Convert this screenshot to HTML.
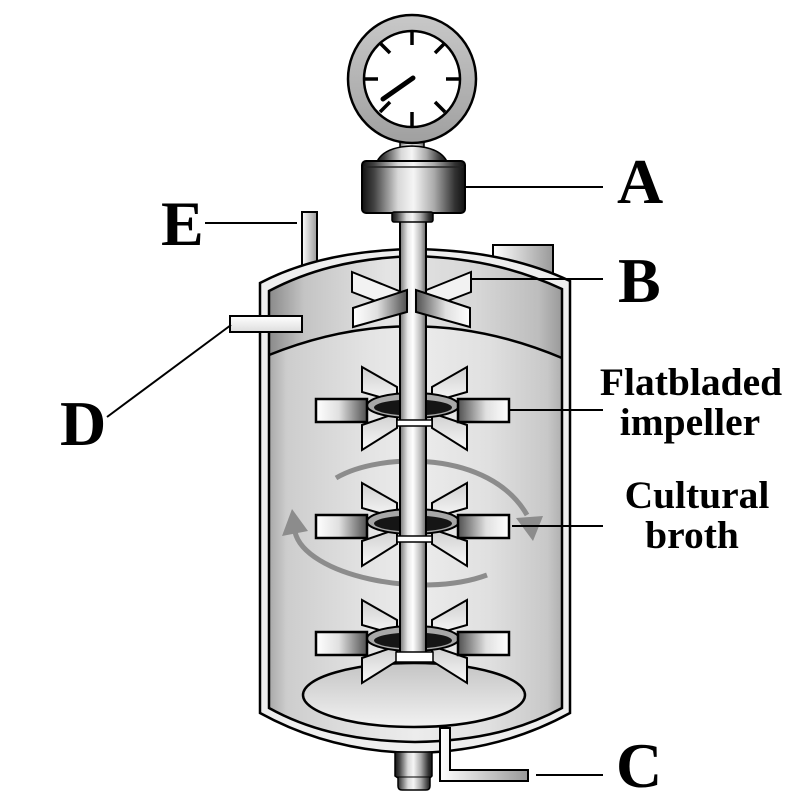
<!DOCTYPE html>
<html><head><meta charset="utf-8">
<style>html,body{margin:0;padding:0;background:#fff}svg{display:block}</style>
</head>
<body>
<svg width="800" height="797" viewBox="0 0 800 797" xmlns="http://www.w3.org/2000/svg">
<defs>
  <linearGradient id="head" x1="0" x2="1" y1="0" y2="0">
    <stop offset="0" stop-color="#8a8a8a"/>
    <stop offset="0.12" stop-color="#c4c4c4"/>
    <stop offset="0.4" stop-color="#e4e4e4"/>
    <stop offset="0.7" stop-color="#d8d8d8"/>
    <stop offset="0.92" stop-color="#bdbdbd"/>
    <stop offset="1" stop-color="#9a9a9a"/>
  </linearGradient>
  <linearGradient id="liq" x1="0" x2="1" y1="0" y2="0">
    <stop offset="0" stop-color="#a8a8a8"/>
    <stop offset="0.06" stop-color="#cdcdcd"/>
    <stop offset="0.35" stop-color="#e4e4e4"/>
    <stop offset="0.5" stop-color="#ececec"/>
    <stop offset="0.75" stop-color="#e0e0e0"/>
    <stop offset="0.95" stop-color="#c8c8c8"/>
    <stop offset="1" stop-color="#b0b0b0"/>
  </linearGradient>
  <linearGradient id="shaft" x1="0" x2="1" y1="0" y2="0">
    <stop offset="0" stop-color="#777"/>
    <stop offset="0.3" stop-color="#e8e8e8"/>
    <stop offset="0.5" stop-color="#fff"/>
    <stop offset="0.8" stop-color="#bbb"/>
    <stop offset="1" stop-color="#666"/>
  </linearGradient>
  <linearGradient id="cap" x1="0" x2="1" y1="0" y2="0">
    <stop offset="0" stop-color="#111"/>
    <stop offset="0.12" stop-color="#444"/>
    <stop offset="0.35" stop-color="#d8d8d8"/>
    <stop offset="0.5" stop-color="#f5f5f5"/>
    <stop offset="0.7" stop-color="#aaa"/>
    <stop offset="0.9" stop-color="#333"/>
    <stop offset="1" stop-color="#111"/>
  </linearGradient>
  <linearGradient id="ring" x1="0" x2="0" y1="0" y2="1">
    <stop offset="0" stop-color="#c8c8c8"/>
    <stop offset="1" stop-color="#a0a0a0"/>
  </linearGradient>
  <linearGradient id="bl" x1="0" x2="1" y1="0" y2="0">
    <stop offset="0" stop-color="#fff"/>
    <stop offset="0.45" stop-color="#e0e0e0"/>
    <stop offset="1" stop-color="#505050"/>
  </linearGradient>
  <linearGradient id="br" x1="1" x2="0" y1="0" y2="0">
    <stop offset="0" stop-color="#fff"/>
    <stop offset="0.45" stop-color="#e0e0e0"/>
    <stop offset="1" stop-color="#505050"/>
  </linearGradient>
  <linearGradient id="pit" x1="0" x2="0" y1="0" y2="1">
    <stop offset="0" stop-color="#cfcfcf"/>
    <stop offset="1" stop-color="#f8f8f8"/>
  </linearGradient>
  <linearGradient id="disc" x1="0" x2="0" y1="0" y2="1">
    <stop offset="0" stop-color="#c4c4c4"/>
    <stop offset="1" stop-color="#f2f2f2"/>
  </linearGradient>
  <linearGradient id="pipe" x1="0" x2="0" y1="0" y2="1">
    <stop offset="0" stop-color="#fff"/>
    <stop offset="1" stop-color="#ddd"/>
  </linearGradient>
  <linearGradient id="pipeh" x1="0" x2="1" y1="0" y2="0">
    <stop offset="0" stop-color="#fff"/>
    <stop offset="1" stop-color="#999"/>
  </linearGradient>

  <g id="imp">
    <!-- pitched blades -->
    <polygon points="362,367 397,387 397,402 362,392" fill="url(#pit)" stroke="#000" stroke-width="2"/>
    <polygon points="467,367 432,387 432,402 467,392" fill="url(#pit)" stroke="#000" stroke-width="2"/>
    <polygon points="362,425 397,413 397,428 362,450" fill="url(#pit)" stroke="#000" stroke-width="2"/>
    <polygon points="467,425 432,413 432,428 467,450" fill="url(#pit)" stroke="#000" stroke-width="2"/>
    <!-- ring -->
    <ellipse cx="413" cy="405.5" rx="46" ry="12.5" fill="#a8a8a8" stroke="#000" stroke-width="2"/>
    <ellipse cx="413" cy="407.5" rx="39" ry="8" fill="#151515"/>
    <!-- flat blades -->
    <rect x="316" y="399" width="51" height="23" fill="url(#bl)" stroke="#000" stroke-width="2.5"/>
    <rect x="458" y="399" width="51" height="23" fill="url(#br)" stroke="#000" stroke-width="2.5"/>
  </g>
</defs>

<rect width="800" height="797" fill="#fff"/>

<!-- top right nozzle & E pipe -->
<rect x="493" y="245" width="60" height="40" fill="url(#pipeh)" stroke="#000" stroke-width="2"/>
<rect x="302" y="212" width="15" height="58" fill="url(#pipeh)" stroke="#000" stroke-width="2"/>

<!-- tank outer -->
<path d="M260,283 C300,262 350,250 415,249 C480,250 530,262 570,281 L570,713 C530,735 480,752 415,753 C350,752 300,735 260,713 Z" fill="#eeeeee" stroke="#000" stroke-width="2.5"/>
<!-- tank inner -->
<path d="M269,291 C305,272 350,258 415,256 C480,258 525,272 562,289 L562,708 C525,728 480,741 415,742 C350,741 305,728 269,708 Z" fill="url(#liq)"/>
<path d="M269,291 C305,272 350,258 415,256 C480,258 525,272 562,289 L562,358 Q415,296 269,355 Z" fill="url(#head)"/>
<path d="M269,355 Q415,296 562,358" fill="none" stroke="#000" stroke-width="2.5"/>
<path d="M269,291 C305,272 350,258 415,256 C480,258 525,272 562,289 L562,708 C525,728 480,741 415,742 C350,741 305,728 269,708 Z" fill="none" stroke="#000" stroke-width="2.5"/>

<!-- disc -->
<ellipse cx="414" cy="695" rx="111" ry="32" fill="url(#disc)" stroke="#000" stroke-width="2.5"/>

<!-- circulation arrows -->
<path d="M336,478 C380,452 490,450 527,515" fill="none" stroke="#8c8c8c" stroke-width="5"/>
<polygon points="516,518 543,516 533,541" fill="#8c8c8c"/>
<path d="M295,532 C305,575 420,600 487,575" fill="none" stroke="#8c8c8c" stroke-width="5"/>
<polygon points="292,509 282,536 308,531" fill="#8c8c8c"/>

<!-- impellers -->
<use href="#imp"/>
<use href="#imp" transform="translate(0,116)"/>
<use href="#imp" transform="translate(0,233)"/>

<!-- top X impeller back bands -->
<polygon points="352,272 404,293 404,312 352,292" fill="#f2f2f2" stroke="#000" stroke-width="2"/>
<polygon points="471,272 419,293 419,312 471,292" fill="#f2f2f2" stroke="#000" stroke-width="2"/>

<!-- shaft -->
<rect x="400" y="220" width="26" height="434" fill="url(#shaft)" stroke="#000" stroke-width="2"/>

<!-- top X front bands -->
<polygon points="353,308 407,290 407,312 353,327" fill="url(#bl)" stroke="#000" stroke-width="2"/>
<polygon points="470,308 416,290 416,312 470,327" fill="url(#br)" stroke="#000" stroke-width="2"/>

<!-- collars -->
<rect x="397" y="420" width="35" height="6" fill="#fff" stroke="#000" stroke-width="1.5"/>
<rect x="397" y="536" width="35" height="6" fill="#fff" stroke="#000" stroke-width="1.5"/>
<rect x="396" y="652" width="37" height="10" fill="#fff" stroke="#000" stroke-width="1.5"/>

<!-- gauge -->
<rect x="400" y="138" width="24" height="12" fill="url(#shaft)" stroke="#000" stroke-width="1.5"/>
<circle cx="412" cy="79" r="64" fill="url(#ring)" stroke="#000" stroke-width="2.5"/>
<circle cx="412" cy="79" r="48" fill="#fff" stroke="#000" stroke-width="2.5"/>
<g stroke="#000" stroke-width="3.5">
  <line x1="412" y1="32" x2="412" y2="45"/>
  <line x1="412" y1="112" x2="412" y2="126"/>
  <line x1="365" y1="79" x2="378" y2="79"/>
  <line x1="446" y1="79" x2="459" y2="79"/>
  <line x1="435" y1="53" x2="445" y2="43"/>
  <line x1="380" y1="43" x2="390" y2="53"/>
  <line x1="435" y1="102" x2="445" y2="112"/>
  <line x1="380" y1="112" x2="390" y2="102"/>
</g>
<line x1="413" y1="78" x2="383" y2="99" stroke="#000" stroke-width="5" stroke-linecap="round"/>

<!-- cap -->
<path d="M376,164 Q382,147 412,146 Q442,147 448,164 Z" fill="url(#cap)" stroke="#000" stroke-width="1.5"/>
<rect x="362" y="161" width="103" height="52" rx="4" fill="url(#cap)" stroke="#000" stroke-width="2"/>
<line x1="364" y1="167" x2="463" y2="167" stroke="#222" stroke-width="1.5"/>
<rect x="392" y="212" width="41" height="10" rx="2" fill="url(#cap)" stroke="#000" stroke-width="1.5"/>

<!-- D pipe -->
<rect x="230" y="316" width="72" height="16" fill="url(#pipe)" stroke="#000" stroke-width="2"/>

<!-- bottom nozzle -->
<path d="M395,752 L395,776 L398,778 L398,786 Q398,790 402,790 L426,790 Q430,790 430,786 L430,778 L432,776 L432,752 Z" fill="url(#cap)" stroke="#000" stroke-width="1.5"/>
<line x1="396" y1="777" x2="431" y2="777" stroke="#000" stroke-width="1"/>

<!-- C pipe -->
<path d="M440,728 L440,781 L528,781 L528,770 L450,770 L450,728 Z" fill="url(#pipeh)" stroke="#000" stroke-width="2"/>

<!-- label lines -->
<g stroke="#000" stroke-width="2">
  <line x1="465" y1="187" x2="603" y2="187"/>
  <line x1="470" y1="279" x2="603" y2="279"/>
  <line x1="509" y1="410" x2="603" y2="410"/>
  <line x1="512" y1="526" x2="603" y2="526"/>
  <line x1="536" y1="775" x2="603" y2="775"/>
  <line x1="205" y1="223" x2="297" y2="223"/>
  <line x1="107" y1="417" x2="231" y2="325"/>
</g>

<!-- labels -->
<g font-family="'Liberation Serif', 'Times New Roman', serif" font-weight="bold" fill="#000">
  <text x="617" y="203" font-size="64">A</text>
  <text x="618" y="302" font-size="64">B</text>
  <text x="616" y="787" font-size="64">C</text>
  <text x="60" y="445" font-size="64">D</text>
  <text x="161" y="245" font-size="64">E</text>
  <text x="691" y="395" font-size="39.5" text-anchor="middle">Flatbladed</text>
  <text x="690" y="435" font-size="39.5" text-anchor="middle">impeller</text>
  <text x="697" y="508" font-size="39.5" text-anchor="middle">Cultural</text>
  <text x="692" y="548" font-size="39.5" text-anchor="middle">broth</text>
</g>
</svg>
</body></html>
